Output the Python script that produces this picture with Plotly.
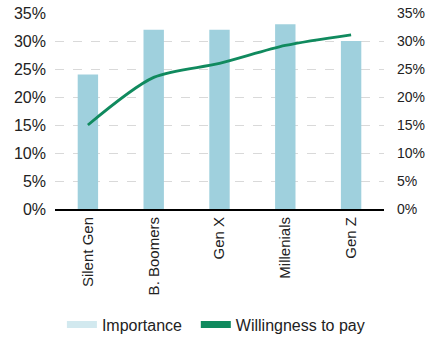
import plotly.graph_objects as go

generations = ["Silent Gen", "B. Boomers", "Gen X", "Millenials", "Gen Z"]
importance = [24, 32, 32, 33, 30]
willingness = [15, 23.5, 26, 29.2, 31.1]
tick_vals = [0, 5, 10, 15, 20, 25, 30, 35]
tick_text = [f"{v}%" for v in tick_vals]

BAR = "#9fd0dd"
BAR_LEGEND = "#d2e9ef"
LINE = "#108a5e"
FONT = "Liberation Sans, Arial, sans-serif"

fig = go.Figure()
fig.add_trace(go.Bar(
    x=generations, y=importance, marker=dict(color=BAR, line=dict(width=0)),
    width=0.31, showlegend=False, yaxis="y",
))
fig.add_trace(go.Scatter(
    x=generations, y=willingness, mode="lines", showlegend=False,
    line=dict(color=LINE, width=2.8, shape="spline", smoothing=0.8),
    yaxis="y2",
))
# legend entries drawn as thick bars, one legend box per entry
fig.add_trace(go.Scatter(
    x=[None], y=[None], name="Importance", mode="lines",
    line=dict(color=BAR_LEGEND, width=7), legend="legend",
))
fig.add_trace(go.Scatter(
    x=[None], y=[None], name="Willingness to pay", mode="lines",
    line=dict(color=LINE, width=7), legend="legend2",
))

axis_common = dict(
    range=[0, 35], tickvals=tick_vals, ticktext=tick_text,
    showline=False, zeroline=False, ticks="", automargin=False,
)
legend_common = dict(
    orientation="h", xanchor="left", y=-0.59, yanchor="middle",
    font=dict(size=16), itemwidth=30,
)
fig.update_layout(
    width=426, height=338,
    margin=dict(l=55, r=42, t=13, b=129, autoexpand=False),
    paper_bgcolor="white", plot_bgcolor="white",
    font=dict(family=FONT, color="#222"),
    bargap=0.69,
    xaxis=dict(
        tickangle=-90, tickfont=dict(size=15), showline=True, linecolor="black",
        linewidth=2, ticks="", showgrid=False, automargin=False,
    ),
    yaxis=dict(
        **axis_common, showgrid=True, gridcolor="#d9d9d9", griddash="dash",
        gridwidth=1, tickfont=dict(size=16, color="#222"), ticklabelstandoff=8,
    ),
    yaxis2=dict(
        **axis_common, overlaying="y", side="right", showgrid=False,
        tickfont=dict(size=14, color="#222"), ticklabelstandoff=12,
    ),
    legend=dict(**legend_common, x=0.021),
    legend2=dict(**legend_common, x=0.428),
)

fig.write_html("out.html")
